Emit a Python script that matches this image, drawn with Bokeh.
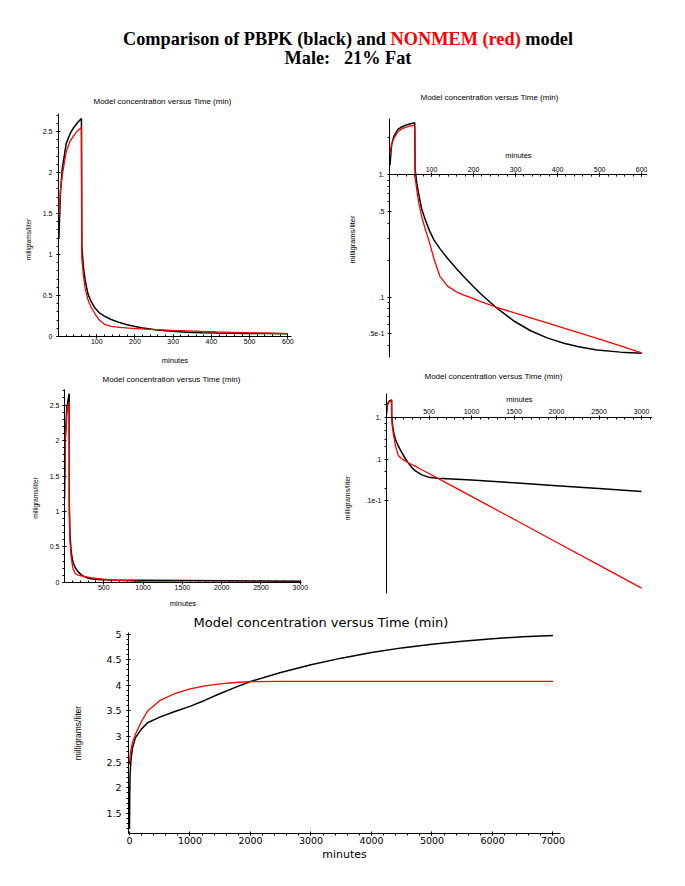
from bokeh.plotting import figure
from bokeh.models import LinearAxis, LogAxis, FixedTicker, NumeralTickFormatter, Div
from bokeh.layouts import column, row
from bokeh.embed import file_html
from bokeh.resources import INLINE

# ---------------- data ----------------
# 600-minute run (top panels)
t_600 = [1, 5, 10, 20, 30, 40, 50, 60, 61, 65, 70, 77, 85, 95, 106, 120, 138, 160, 177,
         200, 217, 253, 296, 336, 375, 415, 450, 494, 550, 600]
pbpk_600 = [1.19, 1.75, 2.05, 2.35, 2.47, 2.55, 2.61, 2.66, 1.10, 0.85, 0.68, 0.52, 0.43,
            0.35, 0.292, 0.249, 0.2075, 0.1694, 0.1466, 0.1216, 0.1066, 0.0826, 0.0638,
            0.0531, 0.0464, 0.0419, 0.0393, 0.0370, 0.0355, 0.0348]
nonmem_600 = [1.45, 1.78, 1.97, 2.25, 2.38, 2.45, 2.51, 2.55, 0.95, 0.75, 0.58, 0.45, 0.36,
              0.28, 0.205, 0.148, 0.123, 0.110, 0.104, 0.097, 0.092, 0.083, 0.0746, 0.0678,
              0.0615, 0.0557, 0.0512, 0.0459, 0.0400, 0.0350]

# 3000-minute run (middle panels)
t_3000 = [1, 10, 30, 60, 61, 70, 85, 106, 138, 177, 217, 253, 296, 336, 415, 494, 600,
          1000, 1500, 2000, 2500, 3000]
pbpk_3000 = [1.19, 2.05, 2.47, 2.66, 1.10, 0.68, 0.43, 0.292, 0.2075, 0.1466, 0.1066,
             0.0826, 0.0638, 0.0531, 0.0419, 0.0370, 0.0350, 0.0317, 0.0270, 0.0231,
             0.0197, 0.0168]
nonmem_3000 = [1.45, 1.97, 2.38, 2.55, 0.95, 0.58, 0.36, 0.205, 0.123, 0.104, 0.092, 0.083,
               0.0746, 0.0678, 0.0557, 0.0459, 0.0350, 0.0128, 0.0036, 0.00101, 0.000285,
               0.00008]

# 7000-minute run (bottom panel)
t_7000 = [0, 5, 10, 25, 50, 100, 200, 300, 500, 750, 1000, 1250, 1500, 1750, 2000, 2500,
          3000, 3500, 4000, 4500, 5000, 5500, 6000, 6500, 7000]
pbpk_7000 = [1.2, 1.9, 2.25, 2.55, 2.78, 2.98, 3.15, 3.27, 3.38, 3.49, 3.59, 3.71, 3.84,
             3.96, 4.075, 4.25, 4.40, 4.53, 4.64, 4.73, 4.80, 4.86, 4.91, 4.945, 4.97]
nonmem_7000 = [2.45, 2.55, 2.62, 2.75, 2.88, 3.05, 3.30, 3.50, 3.70, 3.84, 3.93, 3.99, 4.03,
               4.055, 4.07, 4.075, 4.075, 4.075, 4.075, 4.075, 4.075, 4.075, 4.075, 4.075,
               4.075]

x_ticks_600 = [100, 200, 300, 400, 500, 600]
x_ticks_3000 = [500, 1000, 1500, 2000, 2500, 3000]
x_ticks_7000 = [0, 1000, 2000, 3000, 4000, 5000, 6000, 7000]
y_ticks_lin = [0, 0.5, 1, 1.5, 2, 2.5]
y_ticks_7000 = [1.5, 2, 2.5, 3, 3.5, 4, 4.5, 5]
y_ticks_log600 = {1.0: "1.", 0.5: ".5", 0.1: ".1", 0.05: ".5e-1"}
y_ticks_log3000 = {1.0: "1.", 0.1: ".1", 0.01: ".1e-1"}

TITLE = "Model concentration versus Time (min)"
YLAB = "milligrams/liter"
XLAB = "minutes"
SMALL = "Liberation Sans"
BIG = "DejaVu Sans"


def style_axis(ax, font, tick_size, label_size, standoff, label_standoff):
    ax.axis_line_color = "black"
    ax.axis_line_width = 1
    ax.major_tick_line_color = "black"
    ax.minor_tick_line_color = "black"
    ax.major_tick_in = 2
    ax.major_tick_out = 2
    ax.minor_tick_in = 0
    ax.minor_tick_out = 2
    ax.major_label_standoff = standoff
    ax.major_label_text_font = font
    ax.major_label_text_font_size = f"{tick_size}px"
    ax.major_label_text_color = "black"
    ax.axis_label_text_font = font
    ax.axis_label_text_font_size = f"{label_size}px"
    ax.axis_label_text_font_style = "normal"
    ax.axis_label_text_color = "black"
    ax.axis_label_standoff = label_standoff


def make_fig(w, h, left, right, top, bottom, xr, yr, ytype, title_offset, title_standoff,
             font=SMALL, title_size=8):
    p = figure(width=w, height=h, x_range=xr, y_range=yr, y_axis_type=ytype,
               toolbar_location=None, output_backend="svg",
               x_axis_location=None, y_axis_location=None,
               min_border_left=left, min_border_right=right,
               min_border_top=top, min_border_bottom=bottom, title=TITLE)
    p.grid.visible = False
    p.outline_line_color = None
    p.background_fill_color = "white"
    p.border_fill_color = "white"
    p.title.align = "left"
    p.title.offset = title_offset
    p.title.standoff = title_standoff
    p.title.text_font = font
    p.title.text_font_size = f"{title_size}px"
    p.title.text_font_style = "normal"
    p.title.text_color = "black"
    return p


def add_lines(p, t, black, red):
    p.line(t, black, line_color="black", line_width=1.5)
    p.line(t, red, line_color="red", line_width=1.3)


# Row 1: both frames span the same vertical band (aligned by the row layout)
# ---------- panel 1: 0-600, linear ----------
p1 = make_fig(332, 287, 50, 40, 35, 0, (0, 633), (-0.354, 2.72), "linear", 35, 16)
ax = LinearAxis(ticker=FixedTicker(ticks=x_ticks_600, minor_ticks=list(range(20, 610, 20))),
                axis_label=XLAB, fixed_location=0, bounds=(0, 610))
style_axis(ax, SMALL, 7, 7.5, 1, 8)
ax.minor_tick_in, ax.minor_tick_out = 2, 0
p1.add_layout(ax, "below")
ay = LinearAxis(ticker=FixedTicker(ticks=y_ticks_lin,
                                   minor_ticks=[i / 10 for i in range(0, 28)]),
                axis_label=YLAB, formatter=NumeralTickFormatter(format="0.[0]"),
                bounds=(0, 2.72))
style_axis(ay, SMALL, 7, 6.5, 4, 8)
p1.add_layout(ay, "left")
add_lines(p1, t_600, pbpk_600, nonmem_600)

# ---------- panel 2: 0-600, log ----------
p2 = make_fig(337, 287, 49, 30, 35, 0, (0, 614), (0.0276, 3.17), "log", 31, 23)
ax = LinearAxis(ticker=FixedTicker(ticks=x_ticks_600, minor_ticks=list(range(20, 610, 20))),
                axis_label=XLAB, fixed_location=1)
style_axis(ax, SMALL, 7, 7.5, 1, 4)
ax.minor_tick_in, ax.minor_tick_out = 2, 0
p2.add_layout(ax, "above")
ay = LogAxis(ticker=FixedTicker(ticks=list(y_ticks_log600.keys()),
                                minor_ticks=[0.04, 0.06, 0.07, 0.08, 0.09, 0.2, 0.3, 0.4,
                                             0.6, 0.7, 0.8, 0.9, 2]),
             axis_label=YLAB, major_label_overrides=y_ticks_log600,
             bounds=(0.0323, 2.87))
style_axis(ay, SMALL, 7, 7.5, 3, 9)
p2.add_layout(ay, "left")
add_lines(p2, t_600, pbpk_600, nonmem_600)

# Row 2
# ---------- panel 3: 0-3000, linear ----------
p3 = make_fig(332, 245, 56, 30, 20, 0, (0, 3130), (-0.395, 2.776), "linear", 38, 3)
ax = LinearAxis(ticker=FixedTicker(ticks=x_ticks_3000,
                                   minor_ticks=list(range(100, 3010, 100))),
                axis_label=XLAB, fixed_location=0, bounds=(0, 3015))
style_axis(ax, SMALL, 7, 7.5, 1, 5)
ax.minor_tick_in, ax.minor_tick_out = 2, 0
p3.add_layout(ax, "below")
ay = LinearAxis(ticker=FixedTicker(ticks=y_ticks_lin,
                                   minor_ticks=[i / 10 for i in range(0, 28)]),
                axis_label=YLAB, formatter=NumeralTickFormatter(format="0.[0]"),
                bounds=(0, 2.72))
style_axis(ay, SMALL, 7, 6.5, 3, 8)
p3.add_layout(ay, "left")
add_lines(p3, t_3000, pbpk_3000, nonmem_3000)

# ---------- panel 4: 0-3000, log ----------
p4 = make_fig(337, 245, 45, 25, 20, 0, (0, 3129), (2.33e-5, 5.86), "log", 38, 9)
ax = LinearAxis(ticker=FixedTicker(ticks=x_ticks_3000,
                                   minor_ticks=list(range(100, 3110, 100))),
                axis_label=XLAB, fixed_location=1)
style_axis(ax, SMALL, 7, 7.5, 1, 3)
ax.minor_tick_in, ax.minor_tick_out = 2, 0
p4.add_layout(ax, "above")
ay = LogAxis(ticker=FixedTicker(ticks=list(y_ticks_log3000.keys()),
                                minor_ticks=[0.02, 0.05, 0.2, 0.3, 0.5, 0.7, 2]),
             axis_label=YLAB, major_label_overrides=y_ticks_log3000,
             bounds=(5.97e-5, 3.76))
style_axis(ay, SMALL, 7, 7, 3, 12)
p4.add_layout(ay, "left")
add_lines(p4, t_3000, pbpk_3000, nonmem_3000)

# ---------- panel 5: 0-7000, linear ----------
p5 = make_fig(669, 260, 120, 117, 22, 37, (-16, 7124), (1.11, 5.03), "linear", 65, 5,
              font=BIG, title_size=13)
ax = LinearAxis(ticker=FixedTicker(ticks=x_ticks_7000,
                                   minor_ticks=list(range(200, 7101, 200))),
                axis_label=XLAB)
style_axis(ax, BIG, 9.5, 11, 1, 1)
p5.add_layout(ax, "below")
ay = LinearAxis(ticker=FixedTicker(ticks=y_ticks_7000,
                                   minor_ticks=[round(1.2 + i / 10, 2) for i in range(0, 39)]),
                axis_label=YLAB, formatter=NumeralTickFormatter(format="0.[0]"))
style_axis(ay, BIG, 9.5, 8.5, 5, 20)
ay.axis_label_text_font = SMALL
p5.add_layout(ay, "left")
add_lines(p5, t_7000, pbpk_7000, nonmem_7000)

header = Div(
    text=('<div style="width:669px;box-sizing:border-box;padding-top:22px;padding-left:11px;'
          'text-align:center;font-family:\'Liberation Serif\',serif;font-weight:bold;'
          'font-size:18.3px;line-height:19px;color:black">'
          'Comparison of PBPK (black) and <span style="color:red">NONMEM (red)</span> model'
          '<br>Male:&nbsp;&nbsp; 21% Fat</div>'),
    width=669, height=70, margin=(0, 0, 0, 0))

layout = column(header, row(p1, p2), row(p3, p4), p5, margin=(8, 0, 0, 8))

open("out.html", "w").write(file_html(layout, INLINE))
